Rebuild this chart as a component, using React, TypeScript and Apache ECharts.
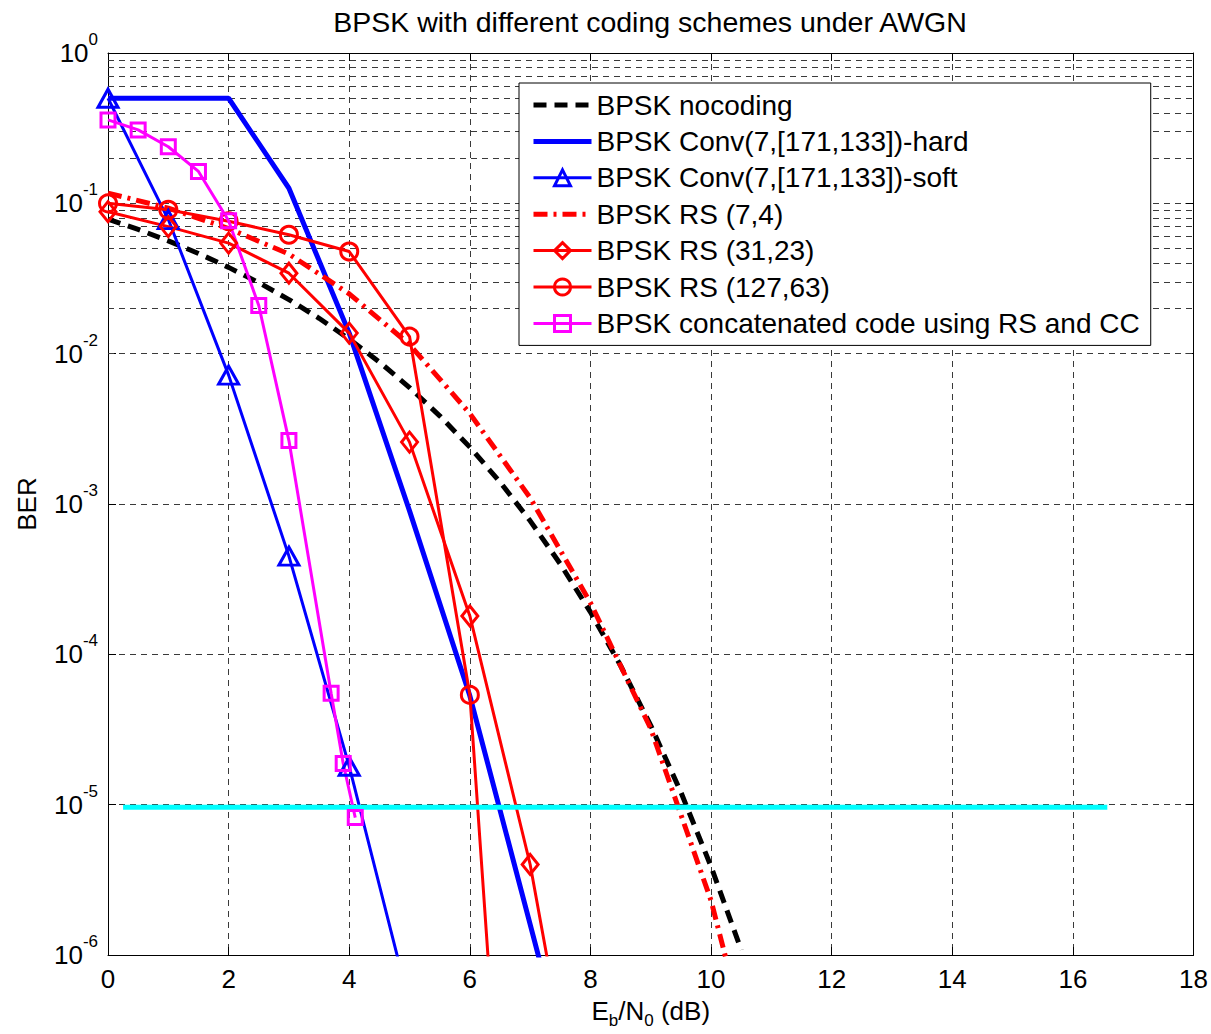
import React, { useEffect, useRef } from "react";
import * as echarts from "echarts";

// ---------- data ----------
const X_TICKS = [0, 2, 4, 6, 8, 10, 12, 14, 16, 18];
const Y_DECADES = [1e-6, 1e-5, 1e-4, 1e-3, 1e-2, 1e-1, 1];

const nocodingX = [0, 0.5, 1, 1.5, 2, 2.5, 3, 3.5, 4, 4.5, 5, 5.5, 6, 6.5, 7, 7.5, 8, 8.5, 9, 9.5, 10, 10.5];
const nocodingBER = [0.0786, 0.0671, 0.0563, 0.0464, 0.0375, 0.0297, 0.0229, 0.0172, 0.0125, 0.0088, 0.00595, 0.00386, 0.00239, 0.0014, 7.73e-4, 3.99e-4, 1.91e-4, 8.4e-5, 3.36e-5, 1.21e-5, 3.87e-6, 1.08e-6];

const hardX = [0, 1, 2, 3, 4, 5, 6, 7, 8];
const hardBER = [0.5, 0.5, 0.5, 0.126, 0.0137, 9e-4, 5.3e-5, 1.6e-6, 4.7e-8];

const softX = [0, 1, 2, 3, 4, 5];
const softBER = [0.5, 0.078, 7.2e-3, 4.5e-4, 1.8e-5, 4.7e-7];

const rs74X = [0, 1, 2, 3, 4, 5, 6, 7, 8, 9, 10, 10.5];
const rs74BER = [0.117, 0.093, 0.068, 0.046, 0.025, 0.0115, 4.0e-3, 1.1e-3, 2.2e-4, 3.2e-5, 2.3e-6, 3.8e-7];

const rs3123X = [0, 1, 2, 3, 4, 5, 6, 7, 8];
const rs3123BER = [0.088, 0.07, 0.0544, 0.0343, 0.0137, 2.58e-3, 1.8e-4, 4.0e-6, 2.5e-8];

const rs12763X = [0, 1, 2, 3, 4, 5, 6, 7];
const rs12763BER = [0.1, 0.0906, 0.076, 0.0618, 0.0478, 0.013, 5.37e-5, 9e-11];

const concatX = [0, 0.5, 1, 1.5, 2, 2.5, 3, 3.7, 3.9, 4.1];
const concatBER = [0.359, 0.308, 0.238, 0.163, 0.0765, 0.0209, 2.64e-3, 5.5e-5, 1.88e-5, 8.2e-6];

const targetX = [0.25, 16.57];
const targetBER = [9.6e-6, 9.6e-6];

const LEGEND_NAMES = [
  "BPSK nocoding",
  "BPSK Conv(7,[171,133])-hard",
  "BPSK Conv(7,[171,133])-soft",
  "BPSK RS (7,4)",
  "BPSK RS (31,23)",
  "BPSK RS (127,63)",
  "BPSK concatenated code using RS and CC",
];

const FONT = "'Liberation Sans', Arial, Helvetica, sans-serif";

function pairs(xs: number[], ys: number[]) {
  return xs.map((x, i) => [x, ys[i]]);
}

function minorValues() {
  const out: number[] = [];
  for (let k = 0; k < Y_DECADES.length - 1; k++) {
    for (let m = 2; m <= 9; m++) out.push(m * Y_DECADES[k]);
  }
  return out;
}

const GRID_STYLE = { type: [6, 5], color: "#3a3a3a", width: 1 };
const NO_MARK = { color: "rgba(0,0,0,0)", borderColor: "rgba(0,0,0,0)", borderWidth: 0 };

export default function App() {
  const ref = useRef<HTMLDivElement>(null);
  useEffect(() => {
    if (!ref.current) return;
    const chart = echarts.init(ref.current, undefined, { renderer: "svg" });
    const open = (c: string) => ({ color: "rgba(255,255,255,0)", borderColor: c, borderWidth: 3 });
    const option: any = {
      animation: false,
      backgroundColor: "#ffffff",
      textStyle: { fontFamily: FONT, color: "#000" },
      title: {
        text: "BPSK with different coding schemes under AWGN",
        left: 645,
        textAlign: "center",
        top: 2,
        textStyle: { fontFamily: FONT, fontSize: 28.5, fontWeight: "normal", color: "#000" },
      },
      grid: { left: 108, top: 53, right: 17, bottom: 78, containLabel: false },
      legend: {
        data: LEGEND_NAMES,
        orient: "vertical",
        left: 519,
        top: 83,
        z: 10,
        padding: [8, 11, 8, 12],
        itemGap: 8.4,
        itemWidth: 58,
        itemHeight: 20,
        backgroundColor: "#ffffff",
        borderColor: "#000",
        borderWidth: 1,
        borderRadius: 0,
        selectedMode: false,
        lineStyle: { width: "inherit" },
        itemStyle: { borderWidth: "inherit" },
        textStyle: { fontFamily: FONT, fontSize: 28, color: "#000", lineHeight: 28 },
      },
      xAxis: [
        {
          type: "value",
          min: 0,
          max: 18,
          interval: 2,
          position: "bottom",
          name: "{n|E}{s|b}{n|/N}{s|0}{n| (dB)}",
          nameLocation: "middle",
          nameGap: 38,
          nameTextStyle: {
            rich: {
              n: { fontFamily: FONT, fontSize: 26, lineHeight: 36, verticalAlign: "middle", color: "#000" },
              s: { fontFamily: FONT, fontSize: 17, lineHeight: 36, verticalAlign: "bottom", color: "#000" },
            },
          },
          axisLine: { show: true, onZero: false, lineStyle: { color: "#000", width: 1 } },
          axisTick: { show: true, inside: true, length: 8, lineStyle: { color: "#000" } },
          axisLabel: { fontFamily: FONT, fontSize: 26, color: "#000", margin: 11 },
          splitLine: { show: true, lineStyle: GRID_STYLE },
        },
        {
          type: "value",
          min: 0,
          max: 18,
          interval: 2,
          position: "top",
          axisLine: { show: true, onZero: false, lineStyle: { color: "#000", width: 1 } },
          axisTick: { show: true, inside: true, length: 8, lineStyle: { color: "#000" } },
          axisLabel: { show: false },
          splitLine: { show: false },
        },
      ],
      yAxis: [
        {
          type: "log",
          logBase: 10,
          min: 1e-6,
          max: 1,
          position: "left",
          name: "BER",
          nameLocation: "middle",
          nameGap: 68,
          nameRotate: 90,
          nameTextStyle: { fontFamily: FONT, fontSize: 26, color: "#000" },
          axisLine: { show: true, onZero: false, lineStyle: { color: "#000", width: 1 } },
          axisTick: { show: true, inside: true, length: 8, lineStyle: { color: "#000" } },
          axisLabel: {
            margin: 10,
            formatter: (v: number) => `{b|10}{e|${Math.round(Math.log10(v))}}`,
            rich: {
              b: { fontFamily: FONT, fontSize: 26, lineHeight: 44, verticalAlign: "middle", color: "#000" },
              e: { fontFamily: FONT, fontSize: 17, lineHeight: 44, verticalAlign: "top", color: "#000" },
            },
          },
          splitLine: { show: true, lineStyle: GRID_STYLE },
        },
        {
          type: "log",
          logBase: 10,
          min: 1e-6,
          max: 1,
          position: "right",
          axisLine: { show: true, onZero: false, lineStyle: { color: "#000", width: 1 } },
          axisTick: { show: true, inside: true, length: 8, lineStyle: { color: "#000" } },
          axisLabel: { show: false },
          splitLine: { show: false },
        },
      ],
      series: [
        {
          name: "minor-grid",
          type: "line",
          data: [[0, 1]],
          symbol: "none",
          lineStyle: { width: 0, opacity: 0 },
          silent: true,
          z: 1,
          markLine: {
            silent: true,
            z: 1,
            symbol: "none",
            label: { show: false },
            lineStyle: GRID_STYLE,
            animation: false,
            data: minorValues().map((v) => ({ yAxis: v })),
          },
        },
        {
          name: LEGEND_NAMES[0],
          type: "line",
          data: pairs(nocodingX, nocodingBER),
          symbol: "none",
          lineStyle: { color: "#000", width: 5, type: [13, 8], cap: "butt" },
          itemStyle: NO_MARK,
        },
        {
          name: LEGEND_NAMES[1],
          type: "line",
          data: pairs(hardX, hardBER),
          symbol: "none",
          lineStyle: { color: "#0000ff", width: 5 },
          itemStyle: NO_MARK,
        },
        {
          name: LEGEND_NAMES[2],
          type: "line",
          data: pairs(softX, softBER),
          symbol: "triangle",
          symbolSize: [20, 18],
          showAllSymbol: true,
          lineStyle: { color: "#0000ff", width: 3 },
          itemStyle: open("#0000ff"),
        },
        {
          name: LEGEND_NAMES[3],
          type: "line",
          data: pairs(rs74X, rs74BER),
          symbol: "none",
          lineStyle: { color: "#ff0000", width: 5, type: [14, 6, 3, 6], cap: "butt" },
          itemStyle: NO_MARK,
        },
        {
          name: LEGEND_NAMES[4],
          type: "line",
          data: pairs(rs3123X, rs3123BER),
          symbol: "diamond",
          symbolSize: [16, 20],
          showAllSymbol: true,
          lineStyle: { color: "#ff0000", width: 3 },
          itemStyle: open("#ff0000"),
        },
        {
          name: LEGEND_NAMES[5],
          type: "line",
          data: pairs(rs12763X, rs12763BER),
          symbol: "circle",
          symbolSize: 17,
          showAllSymbol: true,
          lineStyle: { color: "#ff0000", width: 3 },
          itemStyle: open("#ff0000"),
        },
        {
          name: LEGEND_NAMES[6],
          type: "line",
          data: pairs(concatX, concatBER),
          symbol: "rect",
          symbolSize: 14,
          showAllSymbol: true,
          lineStyle: { color: "#ff00ff", width: 3 },
          itemStyle: open("#ff00ff"),
        },
        {
          name: "target",
          type: "line",
          data: pairs(targetX, targetBER),
          symbol: "none",
          lineStyle: { color: "#00ffff", width: 5 },
          itemStyle: { color: "#00ffff" },
        },
      ],
    };
    chart.setOption(option);
    return () => chart.dispose();
  }, []);
  return (
    <div
      ref={ref}
      style={{ position: "fixed", left: 0, top: 0, width: 1211, height: 1034, background: "#fff" }}
    />
  );
}
